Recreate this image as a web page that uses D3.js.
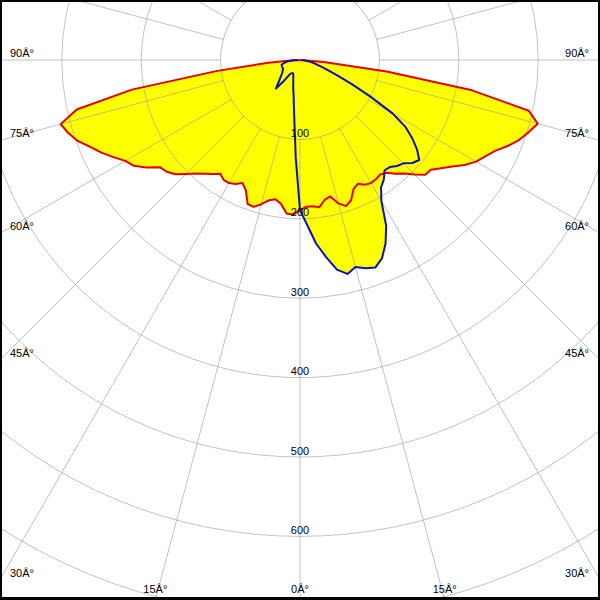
<!DOCTYPE html>
<html>
<head>
<meta charset="utf-8">
<script src="https://cdn.jsdelivr.net/npm/d3@7"></script>
<style>
  html, body { margin: 0; padding: 0; background: #fff; }
  svg { display: block; }
  text { font-family: "Liberation Sans", Arial, sans-serif; font-size: 11px; fill: #000; }
</style>
</head>
<body>
<svg id="chart" width="600" height="600"></svg>
<script>
// Gamma angles (degrees from nadir; negative = left half of the plane)
const angles = [
  -90, -87.5, -85, -82.5, -80, -77.5, -75, -72.5, -70, -67.5, -65, -62.5, -60, -57.5, -55, -52.5,
  -50, -47.5, -45, -42.5, -40, -37.5, -35, -32.5, -30, -27.5, -25, -22.5, -20, -17.5, -15, -12.5,
  -10, -7.5, -5, -2.5, 0, 2.5, 5, 7.5, 10, 12.5, 15, 17.5, 20, 22.5, 25, 27.5, 30, 32.5, 35, 37.5,
  40, 42.5, 45, 47.5, 50, 52.5, 55, 57.5, 60, 62.5, 65, 67.5, 70, 72.5, 75, 77.5, 80, 82.5, 85, 87.5, 90
];
// C0-C180 plane (red)
const redValues = [
  0, 12, 40, 105, 215, 288, 312, 306, 298, 286, 276, 265, 254, 248, 236, 222,
  219, 213, 203, 194, 187, 181, 175, 179, 179, 176, 171, 178, 193, 194, 188, 181,
  178, 183, 194, 195, 189, 185, 185, 187, 179, 176, 187, 193, 188, 176, 172, 177, 179, 178, 176, 179,
  187, 194, 204, 214, 215, 224, 234, 246, 256, 263, 271, 283, 294, 302, 310, 295, 220, 110, 30, 5, 0
];
// C90-C270 plane (blue)
const blueValues = [
  3, 8, 13, 17, 20, 22, 24, 24, 24, 24, 24, 24, 25, 26, 27, 29,
  31, 34, 37, 42, 47, 33, 21, 20, 19, 19, 20, 22, 25, 28, 33, 39,
  46, 59, 80, 123, 189, 208, 232, 250, 268, 276, 270, 275, 278, 270, 255, 235, 205, 190, 184, 175,
  176, 181, 184, 192, 196, 186, 173, 158, 135, 100, 72, 52, 38, 28, 22, 17, 12, 9, 6, 4, 2
];
// Intensity rings and their labels
const ringValues = [100, 200, 300, 400, 500, 600, 700, 800, 900, 1000];
const ringLabels = ["100", "200", "300", "400", "500", "600"];
// Angle labels: [angle, text]
const sideAngles = [90, 75, 60, 45, 30];
const bottomAngles = [-15, 0, 15];
const degSuffix = "Â°";

const W = 600, H = 600, cx = 300, cy = 60;
const svg = d3.select("#chart");
const g = svg.append("g").attr("transform", `translate(${cx},${cy})`);

const r = d3.scaleLinear().domain([0, 100]).range([0, 79.4]);
const toRad = a => (180 - a) * Math.PI / 180; // 0 deg = straight down

const redData = angles.map((a, i) => ({ a, v: redValues[i] }));
const blueData = angles.map((a, i) => ({ a, v: blueValues[i] }));

const line = d3.lineRadial()
  .angle(d => toRad(d.a))
  .radius(d => r(d.v))
  .curve(d3.curveLinearClosed);

// Fills
g.append("path").datum(redData).attr("d", line).attr("fill", "#ffff00").attr("stroke", "none");
g.append("path").datum(blueData).attr("d", line).attr("fill", "#ffff00").attr("stroke", "none");

// Grid
const grid = g.append("g").attr("stroke", "#999").attr("stroke-opacity", 0.6).attr("fill", "none").attr("stroke-width", 1);
ringValues.forEach(v => grid.append("circle").attr("r", r(v)));
d3.range(-180, 180, 15).forEach(a => {
  const t = toRad(a);
  const r0 = r(100), r1 = r(1200);
  grid.append("line")
    .attr("x1", r0 * Math.sin(t)).attr("y1", -r0 * Math.cos(t))
    .attr("x2", r1 * Math.sin(t)).attr("y2", -r1 * Math.cos(t));
});

// Curves
const openLine = d3.lineRadial().angle(d => toRad(d.a)).radius(d => r(d.v));
g.append("path").datum(redData).attr("d", openLine).attr("fill", "none").attr("stroke", "#e60000").attr("stroke-width", 2).attr("stroke-linejoin", "round");
g.append("path").datum(blueData).attr("d", openLine).attr("fill", "none").attr("stroke", "#0a14b4").attr("stroke-width", 2).attr("stroke-linejoin", "round");

// Ring labels
ringLabels.forEach(t => {
  g.append("text").attr("x", 0).attr("y", r(+t) - 2.5).attr("text-anchor", "middle").text(t);
});

// Side angle labels (exit point on left / right frame edge)
sideAngles.forEach(a => {
  const rad = a * Math.PI / 180;
  const ey = Math.abs(Math.cos(rad)) < 1e-9 ? cy : cy + cx / Math.tan(rad);
  svg.append("text").attr("x", 10).attr("y", ey - 3).attr("text-anchor", "start").text(a + degSuffix);
  svg.append("text").attr("x", 589).attr("y", ey - 3).attr("text-anchor", "end").text(a + degSuffix);
});
// Bottom angle labels
bottomAngles.forEach(a => {
  const rad = a * Math.PI / 180;
  const ex = cx + (H - cy) * Math.tan(rad);
  svg.append("text").attr("x", ex).attr("y", 593).attr("text-anchor", "middle").text(Math.abs(a) + degSuffix);
});

// Frame
svg.append("rect").attr("x", 1).attr("y", 1).attr("width", 598).attr("height", 597)
  .attr("fill", "none").attr("stroke", "#000").attr("stroke-width", 2);
svg.append("line").attr("x1", 0).attr("x2", 600).attr("y1", 599.5).attr("y2", 599.5).attr("stroke", "#000");
</script>
</body>
</html>
